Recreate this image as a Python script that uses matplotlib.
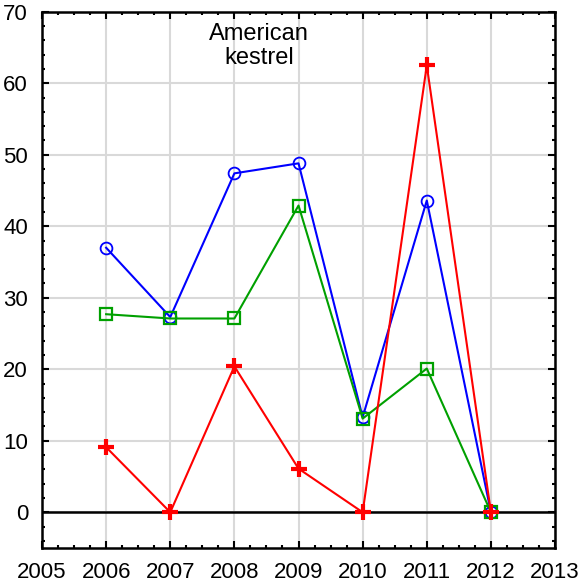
import numpy as np
import matplotlib
matplotlib.use("Agg")
import matplotlib.pyplot as plt
from matplotlib.ticker import MultipleLocator

plt.rcParams['font.family'] = ['Liberation Sans', 'DejaVu Sans']

years = [2006, 2007, 2008, 2009, 2010, 2011, 2012]
blue_vals = [37.0, 27.3, 47.4, 48.8, 13.3, 43.6, 0.0]
green_vals = [27.7, 27.1, 27.1, 42.9, 13.1, 20.1, 0.0]
red_vals = [9.1, 0.0, 20.4, 6.1, 0.0, 62.5, 0.0]
x_ticks = [2005, 2006, 2007, 2008, 2009, 2010, 2011, 2012, 2013]
y_ticks = [0, 10, 20, 30, 40, 50, 60, 70]
label = "American\nkestrel"

fig = plt.figure(figsize=(5.85, 5.88), dpi=100)
ax = fig.add_axes([0.0718, 0.068, 0.877, 0.912])
ax.set_axisbelow(True)

ax.grid(True, color='#d9d9d9', linewidth=1.5)
ax.axhline(0, color='black', linewidth=1.8, zorder=2)

ax.plot(years, blue_vals, color='#0000ff', marker='o', markersize=8.5,
        markerfacecolor='none', markeredgewidth=1.3, linewidth=1.5, zorder=3)
ax.plot(years, green_vals, color='#00a000', marker='s', markersize=8.5,
        markerfacecolor='none', markeredgewidth=1.6, linewidth=1.5, zorder=4)
ax.plot(years, red_vals, color='#ff0000', marker='+', markersize=11,
        markeredgewidth=3, linewidth=1.5, zorder=5)

ax.text(2008.38, 65.2, label, ha='center', va='center', fontsize=17,
        linespacing=1.12)

ax.set_xlim(2005, 2013)
ax.set_ylim(-5, 70)
ax.set_xticks(x_ticks)
ax.set_yticks(y_ticks)
ax.xaxis.set_minor_locator(MultipleLocator(0.25))
ax.yaxis.set_minor_locator(MultipleLocator(2))
ax.tick_params(which='both', direction='in', top=True, right=True,
               labelsize=16, width=1.5)
ax.tick_params(which='major', length=5, pad=10)
ax.tick_params(which='minor', length=2.5)
for s in ax.spines.values():
    s.set_linewidth(1.8)

fig.savefig("out.png", dpi=100)
